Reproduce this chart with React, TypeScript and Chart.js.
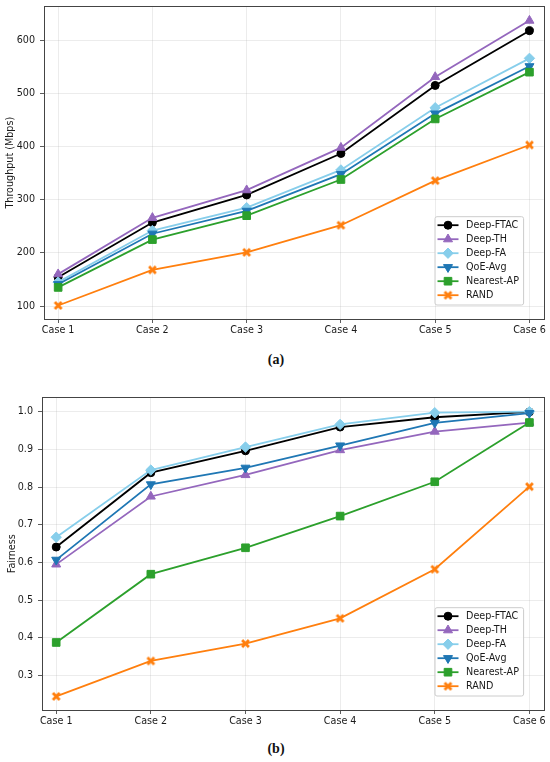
import React, { useEffect, useRef } from 'react';
import { Chart, registerables } from 'chart.js';

Chart.register(...registerables);

// ---------- data ----------
const categories = ['Case 1', 'Case 2', 'Case 3', 'Case 4', 'Case 5', 'Case 6'];
const seriesNames = ['Deep-FTAC', 'Deep-TH', 'Deep-FA', 'QoE-Avg', 'Nearest-AP', 'RAND'];

const throughputDeepFTAC = [154, 257, 309, 387, 515, 618];
const throughputDeepTH = [160, 266, 318, 398, 531, 637];
const throughputDeepFA = [145, 242, 285, 356, 473, 566];
const throughputQoEAvg = [141, 236, 279, 348, 462, 551];
const throughputNearestAP = [135, 225, 270, 338, 452, 540];
const throughputRAND = [101, 168, 201, 252, 336, 403];

const fairnessDeepFTAC = [0.641, 0.838, 0.896, 0.959, 0.985, 0.999];
const fairnessDeepTH = [0.595, 0.775, 0.832, 0.898, 0.947, 0.971];
const fairnessDeepFA = [0.667, 0.845, 0.906, 0.966, 0.997, 1.0];
const fairnessQoEAvg = [0.607, 0.807, 0.851, 0.910, 0.970, 0.996];
const fairnessNearestAP = [0.388, 0.569, 0.639, 0.723, 0.814, 0.971];
const fairnessRAND = [0.245, 0.339, 0.385, 0.452, 0.582, 0.801];

const throughputTicks = [100, 200, 300, 400, 500, 600];
const fairnessTicks = [0.3, 0.4, 0.5, 0.6, 0.7, 0.8, 0.9, 1.0];

// ---------- styles ----------
const seriesColors = ['#000000', '#9467bd', '#87ceeb', '#1f77b4', '#2ca02c', '#ff7f0e'];
const FONT = "'DejaVu Sans', sans-serif";

function makeXMarker(color: string): HTMLCanvasElement {
  const size = 11;
  const c = document.createElement('canvas');
  c.width = size;
  c.height = size;
  const ctx = c.getContext('2d')!;
  ctx.fillStyle = color;
  const h = size / 2;
  const a = 4.4; // half extent
  const t = 2.0; // arm half thickness
  ctx.translate(h, h);
  ctx.beginPath();
  ctx.moveTo(-a + t, -a);
  ctx.lineTo(0, -t);
  ctx.lineTo(a - t, -a);
  ctx.lineTo(a, -a + t);
  ctx.lineTo(t, 0);
  ctx.lineTo(a, a - t);
  ctx.lineTo(a - t, a);
  ctx.lineTo(0, t);
  ctx.lineTo(-a + t, a);
  ctx.lineTo(-a, a - t);
  ctx.lineTo(-t, 0);
  ctx.lineTo(-a, -a + t);
  ctx.closePath();
  ctx.fill();
  return c;
}

type MarkerSpec = { style: any; radius: number; rotation: number };

function markerSpecs(): MarkerSpec[] {
  return [
    { style: 'circle', radius: 4, rotation: 0 },
    { style: 'triangle', radius: 5.2, rotation: 0 },
    { style: 'rectRot', radius: 5.2, rotation: 0 },
    { style: 'triangle', radius: 5.2, rotation: 180 },
    { style: 'rect', radius: 5.4, rotation: 0 },
    { style: makeXMarker(seriesColors[5]), radius: 5, rotation: 0 },
  ];
}

function drawMarker(ctx: CanvasRenderingContext2D, spec: MarkerSpec, color: string, x: number, y: number) {
  ctx.save();
  ctx.fillStyle = color;
  ctx.strokeStyle = color;
  ctx.lineWidth = 1;
  const r = spec.radius;
  if (typeof spec.style !== 'string') {
    const img = spec.style as HTMLCanvasElement;
    ctx.drawImage(img, x - img.width / 2, y - img.height / 2, img.width, img.height);
    ctx.restore();
    return;
  }
  ctx.beginPath();
  if (spec.style === 'circle') {
    ctx.arc(x, y, r, 0, Math.PI * 2);
  } else if (spec.style === 'triangle') {
    const rot = (spec.rotation * Math.PI) / 180;
    for (let k = 0; k < 3; k++) {
      const ang = rot + (k * 2 * Math.PI) / 3;
      const px = x + Math.sin(ang) * r;
      const py = y - Math.cos(ang) * r;
      if (k === 0) ctx.moveTo(px, py);
      else ctx.lineTo(px, py);
    }
    ctx.closePath();
  } else if (spec.style === 'rectRot') {
    ctx.moveTo(x, y - r);
    ctx.lineTo(x + r, y);
    ctx.lineTo(x, y + r);
    ctx.lineTo(x - r, y);
    ctx.closePath();
  } else if (spec.style === 'rect') {
    const s = r * Math.SQRT1_2;
    ctx.rect(x - s, y - s, 2 * s, 2 * s);
  }
  ctx.fill();
  ctx.stroke();
  ctx.restore();
}

type PanelProps = {
  series: number[][];
  yTicks: number[];
  yMin: number;
  yMax: number;
  yTitle: string;
  yDecimals: number;
  top: number;
  height: number;
  plotTop: number;
  plotLeft: number;
  titlePad: number;
};

const XMARGIN = 0.15;

function Panel(props: PanelProps) {
  const ref = useRef<HTMLCanvasElement>(null);
  useEffect(() => {
    const canvas = ref.current!;
    const specs = markerSpecs();
    const H = props.height;
    const plotBottom = 319; // relative to canvas top
    const xAxisHeight = H - plotBottom;

    const datasets = seriesNames.map((name, i) => ({
      label: name,
      data: props.series[i].map((v, j) => ({ x: j, y: v })),
      borderColor: seriesColors[i],
      backgroundColor: seriesColors[i],
      borderWidth: 1.8,
      pointStyle: specs[i].style,
      pointRadius: specs[i].radius,
      pointRotation: specs[i].rotation,
      pointBorderWidth: 1,
      pointBorderColor: seriesColors[i],
      pointBackgroundColor: seriesColors[i],
      tension: 0,
      order: 6 - i,
    }));

    const framePlugin = {
      id: 'frameAndLegend',
      afterDraw(chart: any) {
        const ctx: CanvasRenderingContext2D = chart.ctx;
        const a = chart.chartArea;
        ctx.save();
        ctx.strokeStyle = '#444444';
        ctx.lineWidth = 1;
        ctx.strokeRect(Math.round(a.left) + 0.5, Math.round(a.top) + 0.5, Math.round(a.right - a.left), Math.round(a.bottom - a.top));

        // legend
        const bw = 88.6;
        const bh = 88.3;
        const bx = a.right - 20 - bw;
        const by = a.bottom - 14 - bh;
        ctx.fillStyle = 'rgba(255,255,255,0.85)';
        ctx.strokeStyle = '#cccccc';
        ctx.lineWidth = 1;
        ctx.beginPath();
        const rr = 2;
        ctx.moveTo(bx + rr, by);
        ctx.lineTo(bx + bw - rr, by);
        ctx.quadraticCurveTo(bx + bw, by, bx + bw, by + rr);
        ctx.lineTo(bx + bw, by + bh - rr);
        ctx.quadraticCurveTo(bx + bw, by + bh, bx + bw - rr, by + bh);
        ctx.lineTo(bx + rr, by + bh);
        ctx.quadraticCurveTo(bx, by + bh, bx, by + bh - rr);
        ctx.lineTo(bx, by + rr);
        ctx.quadraticCurveTo(bx, by, bx + rr, by);
        ctx.closePath();
        ctx.fill();
        ctx.stroke();

        ctx.font = `9.6px ${FONT}`;
        ctx.textBaseline = 'middle';
        ctx.textAlign = 'left';
        seriesNames.forEach((name, i) => {
          const cy = by + 8.5 + i * 14;
          ctx.strokeStyle = seriesColors[i];
          ctx.lineWidth = 1.8;
          ctx.beginPath();
          ctx.moveTo(bx + 2.5, cy);
          ctx.lineTo(bx + 23.5, cy);
          ctx.stroke();
          drawMarker(ctx, specs[i], seriesColors[i], bx + 13, cy);
          ctx.fillStyle = '#1a1a1a';
          ctx.fillText(name, bx + 31, cy + 0.5);
        });
        ctx.restore();
      },
    };

    const chart = new Chart(canvas, {
      type: 'line',
      data: { datasets },
      options: {
        animation: false,
        responsive: false,
        maintainAspectRatio: false,
        layout: { padding: { top: props.plotTop, right: 6, left: 0, bottom: 0 } },
        plugins: {
          legend: { display: false },
          tooltip: { enabled: false },
        },
        scales: {
          x: {
            type: 'linear',
            min: -XMARGIN,
            max: categories.length - 1 + XMARGIN,
            afterBuildTicks(scale: any) {
              scale.ticks = categories.map((_, i) => ({ value: i }));
            },
            afterFit(scale: any) {
              scale.height = xAxisHeight;
              scale.paddingLeft = 0;
              scale.paddingRight = 0;
            },
            ticks: {
              autoSkip: false,
              maxRotation: 0,
              padding: 2,
              color: '#1a1a1a',
              font: { family: FONT, size: 9.6 },
              callback: (v: any) => categories[Math.round(Number(v))],
            },
            grid: {
              color: 'rgba(176,176,176,0.3)',
              lineWidth: 0.8,
              tickColor: '#333333',
              tickLength: 4,
              tickWidth: 0.8,
            },
            border: { display: true, color: '#444444', width: 1 },
          },
          y: {
            type: 'linear',
            min: props.yMin,
            max: props.yMax,
            afterBuildTicks(scale: any) {
              scale.ticks = props.yTicks.map((v) => ({ value: v }));
            },
            afterFit(scale: any) {
              scale.width = props.plotLeft;
              scale.paddingTop = 0;
              scale.paddingBottom = 0;
            },
            ticks: {
              padding: 5,
              color: '#1a1a1a',
              font: { family: FONT, size: 9.6 },
              callback: (v: any) => Number(v).toFixed(props.yDecimals),
            },
            grid: {
              color: 'rgba(176,176,176,0.3)',
              lineWidth: 0.8,
              tickColor: '#333333',
              tickLength: 4,
              tickWidth: 0.8,
            },
            border: { display: true, color: '#444444', width: 1 },
            title: {
              display: true,
              text: props.yTitle,
              color: '#1a1a1a',
              font: { family: FONT, size: 9.6 },
              padding: { top: props.titlePad, bottom: 0 },
            },
          },
        },
      },
      plugins: [framePlugin],
    } as any);
    return () => chart.destroy();
  }, []);

  return (
    <canvas
      ref={ref}
      width={550}
      height={props.height}
      style={{ position: 'absolute', left: 0, top: props.top, width: 550, height: props.height }}
    />
  );
}

const captionStyle: React.CSSProperties = {
  position: 'absolute',
  left: 0,
  width: 552,
  textAlign: 'center',
  fontFamily: "'Liberation Serif', 'DejaVu Serif', serif",
  fontWeight: 'bold',
  fontSize: 14,
  lineHeight: '18px',
  color: '#111',
};

export default function App() {
  return (
    <div style={{ position: 'absolute', left: 0, top: 0, width: 550, height: 762, background: '#ffffff', overflow: 'hidden' }}>
      <Panel
        series={[throughputDeepFTAC, throughputDeepTH, throughputDeepFA, throughputQoEAvg, throughputNearestAP, throughputRAND]}
        yTicks={throughputTicks}
        yMin={75.6}
        yMax={663.7}
        yTitle="Throughput (Mbps)"
        yDecimals={0}
        top={0}
        height={345}
        plotTop={4}
        plotLeft={44}
        titlePad={5}
      />
      <div style={{ ...captionStyle, top: 351 }}>(a)</div>
      <Panel
        series={[fairnessDeepFTAC, fairnessDeepTH, fairnessDeepFA, fairnessQoEAvg, fairnessNearestAP, fairnessRAND]}
        yTicks={fairnessTicks}
        yMin={0.209}
        yMax={1.0376}
        yTitle="Fairness"
        yDecimals={1}
        top={391}
        height={345}
        plotTop={3}
        plotLeft={42}
        titlePad={7}
      />
      <div style={{ ...captionStyle, top: 740 }}>(b)</div>
    </div>
  );
}
